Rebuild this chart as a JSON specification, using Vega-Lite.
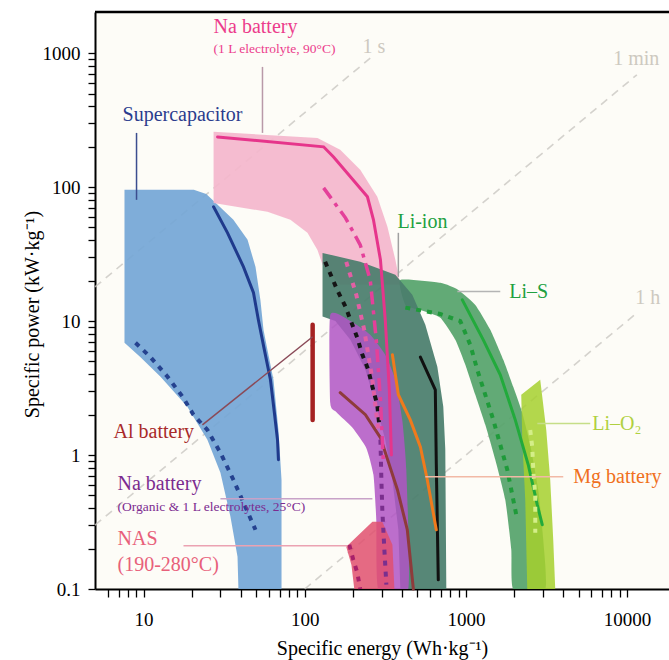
{
"$schema": "https://vega.github.io/schema/vega-lite/v6.json",
"width": 574, "height": 577,
"autosize": {"type": "none"},
"padding": {"left": 95, "top": 12, "right": 0, "bottom": 71},
"background": "white",
"config": {"view": {"stroke": null, "fill": "#fdfcf7"}, "font": "Liberation Serif"},
"datasets": {
"guides": [
{"guide":"1 s","e":5,"p":18},{"guide":"1 s","e":255,"p":918},
{"guide":"1 min","e":5,"p":0.3},{"guide":"1 min","e":11500,"p":690},
{"guide":"1 h","e":100,"p":0.1},{"guide":"1 h","e":11500,"p":11.5}],
"regions": [
{"region":"Supercapacitor","i":1,"e":7.62,"p":95.5},{"region":"Supercapacitor","i":2,"e":20.5,"p":95.5},{"region":"Supercapacitor","i":3,"e":24.5,"p":89},{"region":"Supercapacitor","i":4,"e":28.5,"p":75},{"region":"Supercapacitor","i":5,"e":36.1,"p":57.0},{"region":"Supercapacitor","i":6,"e":44.2,"p":40.4},{"region":"Supercapacitor","i":7,"e":49.5,"p":25.4},{"region":"Supercapacitor","i":8,"e":53.1,"p":14.4},{"region":"Supercapacitor","i":9,"e":55.5,"p":8.61},{"region":"Supercapacitor","i":10,"e":58.7,"p":6.10},{"region":"Supercapacitor","i":11,"e":64.0,"p":3.65},{"region":"Supercapacitor","i":12,"e":68.7,"p":1.54},{"region":"Supercapacitor","i":13,"e":71.8,"p":0.654},{"region":"Supercapacitor","i":14,"e":71.8,"p":0.1},{"region":"Supercapacitor","i":15,"e":38.8,"p":0.1},{"region":"Supercapacitor","i":16,"e":38.3,"p":0.174},{"region":"Supercapacitor","i":17,"e":34.6,"p":0.347},{"region":"Supercapacitor","i":18,"e":30.0,"p":0.738},{"region":"Supercapacitor","i":19,"e":24.9,"p":1.30},{"region":"Supercapacitor","i":20,"e":18.7,"p":2.29},{"region":"Supercapacitor","i":21,"e":12.75,"p":3.84},{"region":"Supercapacitor","i":22,"e":9.58,"p":5.38},{"region":"Supercapacitor","i":23,"e":7.62,"p":6.89},
{"region":"Na 1L","i":1,"e":27.2,"p":259},{"region":"Na 1L","i":2,"e":120,"p":233},{"region":"Na 1L","i":3,"e":166,"p":190},{"region":"Na 1L","i":4,"e":221,"p":135},{"region":"Na 1L","i":5,"e":282,"p":84.7},{"region":"Na 1L","i":6,"e":326,"p":50.6},{"region":"Na 1L","i":7,"e":365,"p":28.7},{"region":"Na 1L","i":8,"e":392,"p":18.7},{"region":"Na 1L","i":9,"e":166,"p":18.7},{"region":"Na 1L","i":10,"e":129,"p":26.3},{"region":"Na 1L","i":11,"e":120,"p":34.0},{"region":"Na 1L","i":12,"e":104,"p":45.6},{"region":"Na 1L","i":13,"e":81.5,"p":57.0},{"region":"Na 1L","i":14,"e":58.7,"p":65.4},{"region":"Na 1L","i":15,"e":27.2,"p":76.3},
{"region":"Li-S","i":1,"e":392,"p":20.3},{"region":"Li-S","i":2,"e":694,"p":19.3},{"region":"Li-S","i":3,"e":897,"p":17.1},{"region":"Li-S","i":4,"e":1144,"p":13.2},{"region":"Li-S","i":5,"e":1417,"p":8.61},{"region":"Li-S","i":6,"e":1706,"p":5.14},{"region":"Li-S","i":7,"e":1967,"p":3.23},{"region":"Li-S","i":8,"e":2237,"p":2.07},{"region":"Li-S","i":9,"e":2507,"p":1.19},{"region":"Li-S","i":10,"e":2811,"p":0.551},{"region":"Li-S","i":11,"e":3020,"p":0.233},{"region":"Li-S","i":12,"e":3107,"p":0.1},{"region":"Li-S","i":13,"e":1967,"p":0.1},{"region":"Li-S","i":14,"e":1912,"p":0.197},{"region":"Li-S","i":15,"e":1755,"p":0.464},{"region":"Li-S","i":16,"e":1522,"p":0.923},{"region":"Li-S","i":17,"e":1320,"p":1.68},{"region":"Li-S","i":18,"e":1144,"p":2.82},{"region":"Li-S","i":19,"e":992,"p":4.72},{"region":"Li-S","i":20,"e":860,"p":7.25},{"region":"Li-S","i":21,"e":694,"p":10.6},{"region":"Li-S","i":22,"e":522,"p":12.1},{"region":"Li-S","i":23,"e":421,"p":13.2},
{"region":"Li-ion","i":1,"e":129,"p":32.3},{"region":"Li-ion","i":2,"e":221,"p":27.7},{"region":"Li-ion","i":3,"e":365,"p":22.2},{"region":"Li-ion","i":4,"e":465,"p":15.7},{"region":"Li-ion","i":5,"e":560,"p":9.38},{"region":"Li-ion","i":6,"e":665,"p":4.56},{"region":"Li-ion","i":7,"e":724,"p":2.29},{"region":"Li-ion","i":8,"e":745,"p":1.10},{"region":"Li-ion","i":9,"e":756,"p":0.1},{"region":"Li-ion","i":10,"e":392,"p":0.1},{"region":"Li-ion","i":11,"e":381,"p":0.277},{"region":"Li-ion","i":12,"e":350,"p":0.654},{"region":"Li-ion","i":13,"e":316,"p":1.30},{"region":"Li-ion","i":14,"e":282,"p":2.18},{"region":"Li-ion","i":15,"e":238,"p":4.33},{"region":"Li-ion","i":16,"e":192,"p":7.25},{"region":"Li-ion","i":17,"e":155,"p":10},{"region":"Li-ion","i":18,"e":129,"p":10.8},
{"region":"Na organic","i":1,"e":144,"p":11.1},{"region":"Na organic","i":2,"e":192,"p":10},{"region":"Na organic","i":3,"e":255,"p":7.9},{"region":"Na organic","i":4,"e":316,"p":5.60},{"region":"Na organic","i":5,"e":365,"p":3.65},{"region":"Na organic","i":6,"e":403,"p":1.83},{"region":"Na organic","i":7,"e":427,"p":0.777},{"region":"Na organic","i":8,"e":439,"p":0.1},{"region":"Na organic","i":9,"e":286,"p":0.1},{"region":"Na organic","i":10,"e":278,"p":0.329},{"region":"Na organic","i":11,"e":267,"p":0.713},{"region":"Na organic","i":12,"e":241,"p":1.13},{"region":"Na organic","i":13,"e":198,"p":1.60},{"region":"Na organic","i":14,"e":157,"p":2.10},{"region":"Na organic","i":15,"e":144,"p":2.46},
{"region":"NAS","i":1,"e":181,"p":0.207},{"region":"NAS","i":2,"e":263,"p":0.318},{"region":"NAS","i":3,"e":303,"p":0.318},{"region":"NAS","i":4,"e":350,"p":0.214},{"region":"NAS","i":5,"e":360,"p":0.1},{"region":"NAS","i":6,"e":203,"p":0.1},{"region":"NAS","i":7,"e":195,"p":0.151},
{"region":"Li-O2","i":1,"e":2205,"p":2.82},{"region":"Li-O2","i":2,"e":2892,"p":3.65},{"region":"Li-O2","i":3,"e":3152,"p":1.54},{"region":"Li-O2","i":4,"e":3335,"p":0.654},{"region":"Li-O2","i":5,"e":3482,"p":0.233},{"region":"Li-O2","i":6,"e":3583,"p":0.1},{"region":"Li-O2","i":7,"e":2403,"p":0.1},{"region":"Li-O2","i":8,"e":2335,"p":0.464},{"region":"Li-O2","i":9,"e":2237,"p":1.30}],
"curves": [
{"curve":"Supercapacitor A","i":1,"e":27.2,"p":71.3},{"curve":"Supercapacitor A","i":2,"e":33.2,"p":45.6},{"curve":"Supercapacitor A","i":3,"e":41.7,"p":25.4},{"curve":"Supercapacitor A","i":4,"e":48.1,"p":16.3},{"curve":"Supercapacitor A","i":5,"e":51.6,"p":10.2},{"curve":"Supercapacitor A","i":6,"e":56.2,"p":6.10},{"curve":"Supercapacitor A","i":7,"e":61.3,"p":3.65},{"curve":"Supercapacitor A","i":8,"e":64.9,"p":2.05},{"curve":"Supercapacitor A","i":9,"e":67.8,"p":1.30},{"curve":"Supercapacitor A","i":10,"e":68.7,"p":0.923},
{"curve":"Supercapacitor B","i":1,"e":8.92,"p":6.89},{"curve":"Supercapacitor B","i":2,"e":11.05,"p":5.38},{"curve":"Supercapacitor B","i":3,"e":14.1,"p":3.84},{"curve":"Supercapacitor B","i":4,"e":17.5,"p":2.72},{"curve":"Supercapacitor B","i":5,"e":20.4,"p":2.00},{"curve":"Supercapacitor B","i":6,"e":24.9,"p":1.54},{"curve":"Supercapacitor B","i":7,"e":30.0,"p":1.04},{"curve":"Supercapacitor B","i":8,"e":36.1,"p":0.654},{"curve":"Supercapacitor B","i":9,"e":41.7,"p":0.441},{"curve":"Supercapacitor B","i":10,"e":49.5,"p":0.277},
{"curve":"Na 1L A","i":1,"e":28.8,"p":237},{"curve":"Na 1L A","i":2,"e":131,"p":200},{"curve":"Na 1L A","i":3,"e":151,"p":168},{"curve":"Na 1L A","i":4,"e":245,"p":84.7},{"curve":"Na 1L A","i":5,"e":267,"p":57.0},{"curve":"Na 1L A","i":6,"e":295,"p":28.7},{"curve":"Na 1L A","i":7,"e":316,"p":10.2},{"curve":"Na 1L A","i":8,"e":335,"p":3.07},{"curve":"Na 1L A","i":9,"e":345,"p":1.0},
{"curve":"Na 1L B","i":1,"e":131,"p":98.8},{"curve":"Na 1L B","i":2,"e":179,"p":59.0},{"curve":"Na 1L B","i":3,"e":221,"p":37.1},{"curve":"Na 1L B","i":4,"e":255,"p":20.3},{"curve":"Na 1L B","i":5,"e":278,"p":7.25},{"curve":"Na 1L B","i":6,"e":295,"p":2.58},{"curve":"Na 1L B","i":7,"e":307,"p":0.923},
{"curve":"Na 1L C","i":1,"e":181,"p":27.7},{"curve":"Na 1L C","i":2,"e":209,"p":15.7},{"curve":"Na 1L C","i":3,"e":234,"p":8.61},{"curve":"Na 1L C","i":4,"e":263,"p":3.65},{"curve":"Na 1L C","i":5,"e":286,"p":1.54},
{"curve":"Li-ion A","i":1,"e":522,"p":5.38},{"curve":"Li-ion A","i":2,"e":646,"p":3.07},{"curve":"Li-ion A","i":3,"e":655,"p":0.877},{"curve":"Li-ion A","i":4,"e":674,"p":0.117},
{"curve":"Li-ion B","i":1,"e":134,"p":27.7},{"curve":"Li-ion B","i":2,"e":159,"p":17.1},{"curve":"Li-ion B","i":3,"e":179,"p":12.8},{"curve":"Li-ion B","i":4,"e":212,"p":7.50},{"curve":"Li-ion B","i":5,"e":228,"p":5.60},{"curve":"Li-ion B","i":6,"e":248,"p":4.33},{"curve":"Li-ion B","i":7,"e":263,"p":3.23},{"curve":"Li-ion B","i":8,"e":282,"p":2.37},{"curve":"Li-ion B","i":9,"e":290,"p":1.68},
{"curve":"Mg battery","i":1,"e":350,"p":5.60},{"curve":"Mg battery","i":2,"e":381,"p":2.82},{"curve":"Mg battery","i":3,"e":452,"p":1.83},{"curve":"Mg battery","i":4,"e":522,"p":1.15},{"curve":"Mg battery","i":5,"e":576,"p":0.654},{"curve":"Mg battery","i":6,"e":655,"p":0.277},
{"curve":"Al battery","i":1,"e":112,"p":9.38},{"curve":"Al battery","i":2,"e":112,"p":1.83},
{"curve":"Na organic A","i":1,"e":166,"p":2.92},{"curve":"Na organic A","i":2,"e":238,"p":2.00},{"curve":"Na organic A","i":3,"e":295,"p":1.35},{"curve":"Na organic A","i":4,"e":376,"p":0.551},{"curve":"Na organic A","i":5,"e":433,"p":0.277},{"curve":"Na organic A","i":6,"e":472,"p":0.1},
{"curve":"Na organic B","i":1,"e":295,"p":1.30},{"curve":"Na organic B","i":2,"e":299,"p":0.654},{"curve":"Na organic B","i":3,"e":303,"p":0.391},{"curve":"Na organic B","i":4,"e":312,"p":0.197},{"curve":"Na organic B","i":5,"e":321,"p":0.108},
{"curve":"NAS A","i":1,"e":189,"p":0.214},{"curve":"NAS A","i":2,"e":200,"p":0.166},{"curve":"NAS A","i":3,"e":212,"p":0.132},{"curve":"NAS A","i":4,"e":221,"p":0.1},
{"curve":"Li-S A","i":1,"e":950,"p":14.4},{"curve":"Li-S A","i":2,"e":1282,"p":7.25},{"curve":"Li-S A","i":3,"e":1634,"p":3.97},{"curve":"Li-S A","i":4,"e":2024,"p":1.83},{"curve":"Li-S A","i":5,"e":2437,"p":0.846},{"curve":"Li-S A","i":6,"e":2771,"p":0.426},{"curve":"Li-S A","i":7,"e":2976,"p":0.302},
{"curve":"Li-S B","i":1,"e":421,"p":12.6},{"curve":"Li-S B","i":2,"e":694,"p":11.3},{"curve":"Li-S B","i":3,"e":923,"p":10},{"curve":"Li-S B","i":4,"e":1065,"p":6.65},{"curve":"Li-S B","i":5,"e":1177,"p":4.33},{"curve":"Li-S B","i":6,"e":1479,"p":1.83},{"curve":"Li-S B","i":7,"e":1806,"p":0.777},{"curve":"Li-S B","i":8,"e":2083,"p":0.329},
{"curve":"Li-O2 A","i":1,"e":2507,"p":1.54},{"curve":"Li-O2 A","i":2,"e":2580,"p":1.15},{"curve":"Li-O2 A","i":3,"e":2618,"p":0.777},{"curve":"Li-O2 A","i":4,"e":2694,"p":0.489},{"curve":"Li-O2 A","i":5,"e":2694,"p":0.263}],
"leaders": [
{"group":"Supercapacitor","e":9.05,"p":254,"e2":9.05,"p2":80.4},
{"group":"Na 1L","e":54.7,"p":790,"e2":54.7,"p2":254},
{"group":"Li-ion","e":381,"p":45.6,"e2":381,"p2":21.4},
{"group":"Li-S","e":885,"p":16.6,"e2":1634,"p2":16.6},
{"group":"Al","e":23.2,"p":1.68,"e2":112,"p2":7.64},
{"group":"Na organic","e":30.0,"p":0.472,"e2":263,"p2":0.472},
{"group":"NAS","e":17.7,"p":0.210,"e2":184,"p2":0.210},
{"group":"Mg","e":560,"p":0.689,"e2":4018,"p2":0.689},
{"group":"Li-O2","e":2773,"p":1.72,"e2":5907,"p2":1.72}],
"labels": [
{"text":"Na battery","group":"Na 1L","e":27.2,"p":1571},
{"text":"Supercapacitor","group":"Supercapacitor","e":7.41,"p":347},
{"text":"Li-ion","group":"Li-ion","e":376,"p":55.1},
{"text":"Li–S","group":"Li-S","e":1858,"p":16.6},
{"text":"1 s","group":"time","e":228,"p":1114},
{"text":"1 min","group":"time","e":8203,"p":907},
{"text":"1 h","group":"time","e":11220,"p":14.9},
{"text":"Al battery","group":"Al","e":6.52,"p":1.49},
{"text":"Na battery","group":"Na organic","e":6.90,"p":0.611},
{"text":"NAS","group":"NAS","e":6.90,"p":0.236},
{"text":"(190-280°C)","group":"NAS","e":6.90,"p":0.152},
{"text":"Mg battery","group":"Mg","e":4634,"p":0.689},
{"text":"Li–O₂","group":"Li-O2","e":6081,"p":1.70}],
"notes": [
{"text":"(1 L electrolyte, 90°C)","group":"Na 1L","e":27.2,"p":1077},
{"text":"(Organic & 1 L electrolytes, 25°C)","group":"Na organic","e":6.90,"p":0.411}]
},
"layer": [
{
"encoding": {
"x": {"field": "e", "type": "quantitative", "scale": {"type": "log", "domain": [5, 18200], "nice": false, "zero": false},
 "axis": {"title": "Specific energy (Wh·kg⁻¹)", "grid": false,
  "values": [6,7,8,9,10,20,30,40,50,60,70,80,90,100,200,300,400,500,600,700,800,900,1000,2000,3000,4000,5000,6000,7000,8000,9000,10000],
  "labelExpr": "datum.value == 10 ? '10' : datum.value == 100 ? '100' : datum.value == 1000 ? '1000' : datum.value == 10000 ? '10000' : ''",
  "labelOverlap": false, "labelFlush": false, "tickSize": 8, "tickColor": "black", "tickWidth": 1.3,
  "domainColor": "black", "domainWidth": 2, "labelFont": "Liberation Serif", "labelFontSize": 19, "labelColor": "black", "labelPadding": 13,
  "titleFont": "Liberation Serif", "titleFontSize": 20, "titleFontWeight": "normal", "titleColor": "black", "titlePadding": 9}},
"y": {"field": "p", "type": "quantitative", "scale": {"type": "log", "domain": [0.1, 2030], "nice": false, "zero": false},
 "axis": {"title": "Specific power (kW·kg⁻¹)", "grid": false,
  "values": [0.1,0.2,0.3,0.4,0.5,0.6,0.7,0.8,0.9,1,2,3,4,5,6,7,8,9,10,20,30,40,50,60,70,80,90,100,200,300,400,500,600,700,800,900,1000],
  "labelExpr": "datum.value == 0.1 ? '0.1' : datum.value == 1 ? '1' : datum.value == 10 ? '10' : datum.value == 100 ? '100' : datum.value == 1000 ? '1000' : ''",
  "labelOverlap": false, "labelFlush": false, "tickSize": 7, "tickColor": "black", "tickWidth": 1.3,
  "domainColor": "black", "domainWidth": 2, "labelFont": "Liberation Serif", "labelFontSize": 19, "labelColor": "black", "labelPadding": 8,
  "titleFont": "Liberation Serif", "titleFontSize": 20, "titleFontWeight": "normal", "titleColor": "black", "titlePadding": 0, "titleY": 302}}
},
"layer": [
{"data": {"name": "guides"}, "mark": {"type": "line", "stroke": "#c9c7c2", "strokeWidth": 1.6, "strokeDash": [8, 6], "opacity": 0.8},
 "encoding": {"detail": {"field": "guide"}}},
{"data": {"name": "regions"}, "transform": [{"filter": "datum.region === 'Supercapacitor'"}],
 "mark": {"type": "line", "interpolate": "linear-closed", "clip": true, "fill": "#74a6d6", "fillOpacity": 0.92, "strokeWidth": 0},
 "encoding": {"order": {"field": "i", "type": "quantitative"}}},
{"data": {"name": "regions"}, "transform": [{"filter": "datum.region === 'Na 1L'"}],
 "mark": {"type": "line", "interpolate": "linear-closed", "clip": true, "fill": "#f4b6cc", "fillOpacity": 0.92, "strokeWidth": 0},
 "encoding": {"order": {"field": "i", "type": "quantitative"}}},
{"data": {"name": "regions"}, "transform": [{"filter": "datum.region === 'Li-S'"}],
 "mark": {"type": "line", "interpolate": "cardinal-closed", "tension": 0.5, "clip": true, "fill": "#55a36a", "fillOpacity": 0.92, "strokeWidth": 0},
 "encoding": {"order": {"field": "i", "type": "quantitative"}}},
{"data": {"name": "regions"}, "transform": [{"filter": "datum.region === 'Li-ion'"}],
 "mark": {"type": "line", "interpolate": "linear-closed", "clip": true, "fill": "#4a7e6d", "fillOpacity": 0.93, "strokeWidth": 0},
 "encoding": {"order": {"field": "i", "type": "quantitative"}}},
{"data": {"name": "regions"}, "transform": [{"filter": "datum.region === 'Na organic'"}],
 "mark": {"type": "line", "interpolate": "cardinal-closed", "tension": 0.5, "clip": true, "fill": "#b055c4", "fillOpacity": 0.85, "strokeWidth": 0},
 "encoding": {"order": {"field": "i", "type": "quantitative"}}},
{"data": {"name": "regions"}, "transform": [{"filter": "datum.region === 'NAS'"}],
 "mark": {"type": "line", "interpolate": "linear-closed", "clip": true, "fill": "#e0506e", "fillOpacity": 0.85, "strokeWidth": 0},
 "encoding": {"order": {"field": "i", "type": "quantitative"}}},
{"data": {"name": "regions"}, "transform": [{"filter": "datum.region === 'Li-O2'"}],
 "mark": {"type": "line", "interpolate": "linear-closed", "clip": true, "fill": "#a6d02e", "fillOpacity": 0.85, "strokeWidth": 0},
 "encoding": {"order": {"field": "i", "type": "quantitative"}}},
{"data": {"name": "curves"}, "transform": [{"filter": {"field": "curve", "oneOf": ["Supercapacitor A", "Na 1L A", "Li-ion A", "Mg battery", "Na organic A", "Li-S A"]}}],
 "mark": {"type": "line", "strokeWidth": 3, "strokeCap": "round"},
 "encoding": {"order": {"field": "i", "type": "quantitative"},
  "color": {"field": "curve", "type": "nominal", "legend": null,
   "scale": {"domain": ["Supercapacitor A", "Na 1L A", "Li-ion A", "Mg battery", "Na organic A", "Li-S A"], "range": ["#1f3a8c", "#e6358b", "#111111", "#f07a1c", "#8e3b3b", "#22aa3c"]}}}},
{"data": {"name": "curves"}, "transform": [{"filter": "datum.curve === 'Al battery'"}],
 "mark": {"type": "line", "strokeWidth": 4.5, "strokeCap": "round", "stroke": "#a52222"},
 "encoding": {"order": {"field": "i", "type": "quantitative"}}},
{"data": {"name": "curves"}, "transform": [{"filter": {"field": "curve", "oneOf": ["Supercapacitor B", "Na 1L C", "Li-ion B", "Na organic B", "NAS A", "Li-S B", "Li-O2 A"]}}],
 "mark": {"type": "line", "strokeWidth": 4, "strokeDash": [5, 6], "strokeCap": "butt"},
 "encoding": {"order": {"field": "i", "type": "quantitative"},
  "color": {"field": "curve", "type": "nominal", "legend": null,
   "scale": {"domain": ["Supercapacitor B", "Na 1L C", "Li-ion B", "Na organic B", "NAS A", "Li-S B", "Li-O2 A"], "range": ["#25428f", "#e25fa4", "#151515", "#7a2f8e", "#a8206a", "#1f9a3a", "#d4ee88"]}}}},
{"data": {"name": "curves"}, "transform": [{"filter": "datum.curve === 'Na 1L B'"}],
 "mark": {"type": "line", "strokeWidth": 3.5, "strokeDash": [13, 6, 4, 6], "stroke": "#e4409a"},
 "encoding": {"order": {"field": "i", "type": "quantitative"}}},
{"data": {"name": "leaders"}, "mark": {"type": "rule", "strokeWidth": 1.5},
 "encoding": {"x2": {"field": "e2"}, "y2": {"field": "p2"},
  "color": {"field": "group", "type": "nominal", "legend": null,
   "scale": {"domain": ["Supercapacitor", "Na 1L", "Li-ion", "Li-S", "Al", "Na organic", "NAS", "Mg", "Li-O2"], "range": ["#3b4d8f", "#b999a8", "#a0a0a0", "#b4b4b4", "#8a4a58", "#c8a2c8", "#eba2b2", "#f2b9a6", "#c6de88"]}}}},
{"data": {"name": "labels"}, "mark": {"type": "text", "align": "left", "baseline": "middle", "fontSize": 20, "font": "Liberation Serif"},
 "encoding": {"text": {"field": "text"},
  "color": {"field": "group", "type": "nominal", "legend": null,
   "scale": {"domain": ["Supercapacitor", "Na 1L", "Li-ion", "Li-S", "Al", "Na organic", "NAS", "Mg", "Li-O2", "time"], "range": ["#2b3c8e", "#ec3c8c", "#20a040", "#20a040", "#a82a2a", "#7c2b90", "#e8607a", "#f07020", "#b0d040", "#cdc9c0"]}}}},
{"data": {"name": "notes"}, "mark": {"type": "text", "align": "left", "baseline": "middle", "fontSize": 13.5, "font": "Liberation Serif"},
 "encoding": {"text": {"field": "text"},
  "color": {"field": "group", "type": "nominal", "legend": null,
   "scale": {"domain": ["Na 1L", "Na organic"], "range": ["#ec3c8c", "#7c2b90"]}}}}
],
"resolve": {"scale": {"color": "independent"}}
},
{"data": {"values": [{"edge": "top"}]}, "mark": {"type": "rule", "stroke": "black", "strokeWidth": 2.5},
 "encoding": {"y": {"datum": 2030, "type": "quantitative"}}}
],
"resolve": {"scale": {"color": "independent"}}
}
